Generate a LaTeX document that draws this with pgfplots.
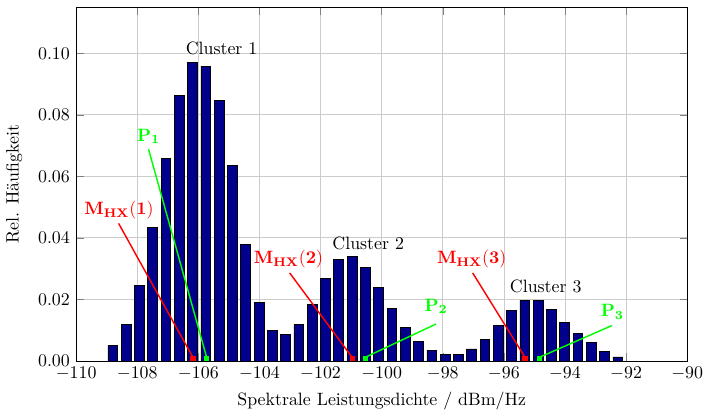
\documentclass[border=0pt]{standalone}
\usepackage{pgfplots}
\pgfplotsset{compat=1.18}
\usepackage{pgfplotstable}
\definecolor{barblue}{rgb}{0,0,0.55}
\pgfplotstableread{
x y
-108.800 0.0050
-108.365 0.0118
-107.930 0.0245
-107.495 0.0433
-107.060 0.0657
-106.625 0.0862
-106.190 0.0969
-105.755 0.0958
-105.320 0.0846
-104.885 0.0635
-104.450 0.0380
-104.015 0.0189
-103.580 0.0099
-103.145 0.0086
-102.710 0.0118
-102.275 0.0183
-101.840 0.0267
-101.405 0.0329
-100.970 0.0340
-100.535 0.0304
-100.100 0.0240
-99.665 0.0170
-99.230 0.0109
-98.795 0.0063
-98.360 0.0035
-97.925 0.0021
-97.490 0.0021
-97.055 0.0039
-96.620 0.0071
-96.185 0.0116
-95.750 0.0165
-95.315 0.0197
-94.880 0.0197
-94.445 0.0166
-94.010 0.0124
-93.575 0.0090
-93.140 0.0060
-92.705 0.0032
-92.270 0.0013
}\histdata
\begin{document}
\begin{tikzpicture}
\begin{axis}[
  scale only axis,
  width=342pt, height=198pt,
  xmin=-110, xmax=-90,
  ymin=0, ymax=0.115,
  xtick={-110,-108,...,-90},
  ytick={0,0.02,...,0.1},
  yticklabel style={/pgf/number format/.cd,fixed,fixed zerofill,precision=2},
  scaled y ticks=false,
  grid=major,
  major grid style={gray!40},
  xlabel={Spektrale Leistungsdichte / dBm/Hz},
  ylabel={Rel. H\"aufigkeit},
  ylabel style={yshift=2pt},
  tick align=inside,
  clip=false,
]
\addplot[ybar, bar width=0.32, fill=barblue, draw=black] table[x=x,y=y] {\histdata};
% annotation lines
\addplot[red, thick, no marks] coordinates {(-108.61,0.0447) (-106.18,0.0012)};
\addplot[green, thick, no marks] coordinates {(-107.63,0.0688) (-105.73,0.0012)};
\addplot[red, thick, no marks] coordinates {(-103.01,0.0286) (-100.97,0.0012)};
\addplot[green, thick, no marks] coordinates {(-98.22,0.0120) (-100.53,0.0012)};
\addplot[red, thick, no marks] coordinates {(-97.02,0.0286) (-95.31,0.0012)};
\addplot[green, thick, no marks] coordinates {(-92.46,0.0115) (-94.83,0.0012)};
% markers
\addplot[only marks, mark=square*, mark size=1.2pt, red] coordinates {(-106.18,0.0008) (-100.97,0.0008) (-95.31,0.0008)};
\addplot[only marks, mark=square*, mark size=1.2pt, green] coordinates {(-105.73,0.0008) (-100.53,0.0008) (-94.83,0.0008)};
% labels
\node[red] at (axis cs:-108.6,0.0490) {$\mathbf{M_{HX}(1)}$};
\node[green] at (axis cs:-107.63,0.0730) {$\mathbf{P_1}$};
\node[red] at (axis cs:-103.05,0.0331) {$\mathbf{M_{HX}(2)}$};
\node[green] at (axis cs:-98.22,0.0177) {$\mathbf{P_2}$};
\node[red] at (axis cs:-97.05,0.0331) {$\mathbf{M_{HX}(3)}$};
\node[green] at (axis cs:-92.45,0.0160) {$\mathbf{P_3}$};
\node at (axis cs:-105.24,0.1016) {Cluster 1};
\node at (axis cs:-100.44,0.0383) {Cluster 2};
\node at (axis cs:-94.63,0.0241) {Cluster 3};
\end{axis}
\path ([yshift=4pt]current axis.north) -- ([yshift=-2pt]current axis.south);
\end{tikzpicture}
\end{document}
